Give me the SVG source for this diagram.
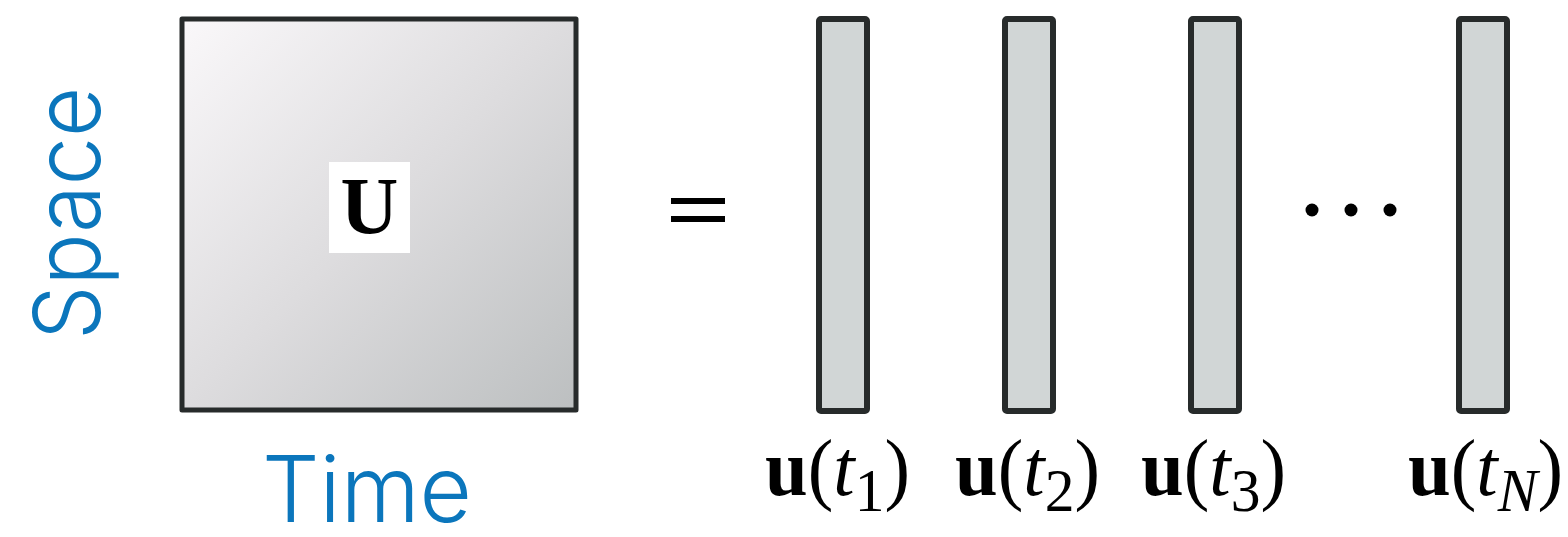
<svg xmlns="http://www.w3.org/2000/svg" width="1568" height="537" viewBox="0 0 1568 537">
<style>
.col{fill:#d1d6d6;stroke:#272b2b;stroke-width:6;stroke-linejoin:round}
.axis{fill:#0b76bc;font-family:Inter,Lato,"Noto Sans",sans-serif;font-size:92px;font-weight:300}
.lab{font-family:"Liberation Serif",serif;font-size:80px;fill:#000}
.sub{font-size:62px}
.bar{fill:#000}
</style>
<defs>
<linearGradient id="g" x1="0" y1="0" x2="1" y2="1">
<stop offset="0" stop-color="#faf8fa"/>
<stop offset="0.5" stop-color="#dddcde"/>
<stop offset="1" stop-color="#bcbfc0"/>
</linearGradient>
</defs>
<g id="matrix">
<rect x="182" y="19" width="394" height="391" fill="url(#g)" stroke="#272b2b" stroke-width="5" stroke-linejoin="round"/>
<rect x="329" y="162" width="81" height="91" fill="#fff"/>
<text x="369.500" y="233" text-anchor="middle" font-family="Liberation Serif,serif" font-weight="bold" font-size="80">U</text>
</g>
<g id="space-label"><text class="axis" transform="translate(100,340) rotate(-90)" textLength="253" lengthAdjust="spacingAndGlyphs">Space</text></g>
<g id="time-label"><text class="axis" x="262" y="522" textLength="210" lengthAdjust="spacingAndGlyphs">Time</text></g>
<g id="equals"><rect class="bar" x="671" y="198" width="54" height="6"/><rect class="bar" x="671" y="216" width="54" height="6"/></g>
<g id="col1"><rect class="col" x="819" y="19" width="48" height="392" rx="2"/></g>
<g id="col2"><rect class="col" x="1005" y="19" width="48" height="392" rx="2"/></g>
<g id="col3"><rect class="col" x="1191" y="19" width="48" height="392" rx="2"/></g>
<g id="colN"><rect class="col" x="1459" y="19" width="48" height="392" rx="2"/></g>
<g id="dots"><circle cx="1312" cy="210" r="6.5"/><circle cx="1351" cy="210" r="6.5"/><circle cx="1390" cy="210" r="6.5"/></g>
<g id="labels">
<text class="lab" x="765" y="495" textLength="145" lengthAdjust="spacingAndGlyphs"><tspan font-weight="bold">u</tspan>(<tspan font-style="italic">t</tspan><tspan class="sub" dy="16">1</tspan><tspan dy="-16">)</tspan></text>
<text class="lab" x="955" y="495" textLength="145" lengthAdjust="spacingAndGlyphs"><tspan font-weight="bold">u</tspan>(<tspan font-style="italic">t</tspan><tspan class="sub" dy="16">2</tspan><tspan dy="-16">)</tspan></text>
<text class="lab" x="1141" y="495" textLength="145" lengthAdjust="spacingAndGlyphs"><tspan font-weight="bold">u</tspan>(<tspan font-style="italic">t</tspan><tspan class="sub" dy="16">3</tspan><tspan dy="-16">)</tspan></text>
<text class="lab" x="1408" y="495" textLength="155" lengthAdjust="spacingAndGlyphs"><tspan font-weight="bold">u</tspan>(<tspan font-style="italic">t</tspan><tspan class="sub" font-style="italic" dy="16">N</tspan><tspan dy="-16">)</tspan></text>
</g>
</svg>
